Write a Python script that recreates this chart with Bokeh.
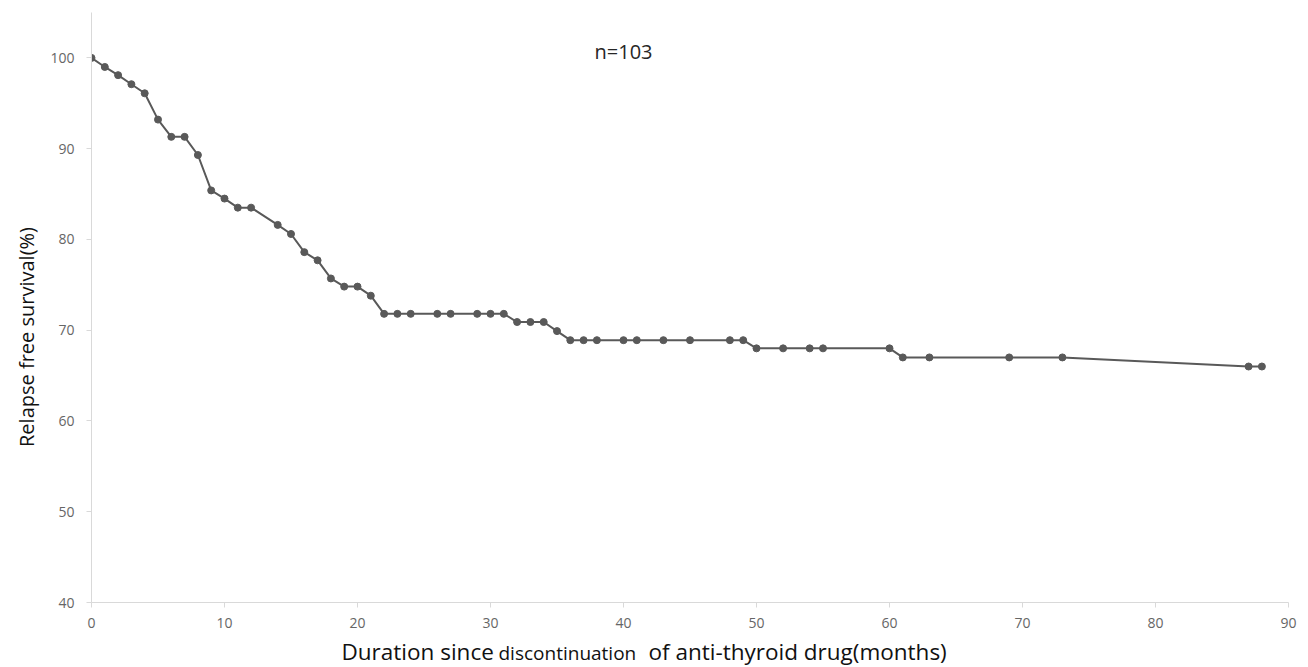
import math
from bokeh.plotting import figure
from bokeh.layouts import column, row
from bokeh.models import Label, Range1d, FixedTicker
from bokeh.embed import file_html
from bokeh.resources import INLINE

# ---- data (months since discontinuation, relapse-free survival %) ----
months = [0, 1, 2, 3, 4, 5, 6, 7, 8, 9, 10, 11, 12, 14, 15, 16, 17, 18, 19, 20,
          21, 22, 23, 24, 26, 27, 29, 30, 31, 32, 33, 34, 35, 36, 37, 38, 40, 41,
          43, 45, 48, 49, 50, 52, 54, 55, 60, 61, 63, 69, 73, 87, 88]
survival = [100.0, 99.0, 98.1, 97.1, 96.1, 93.2, 91.3, 91.3, 89.3, 85.4, 84.5,
            83.5, 83.5, 81.6, 80.6, 78.6, 77.7, 75.7, 74.8, 74.8, 73.8, 71.8,
            71.8, 71.8, 71.8, 71.8, 71.8, 71.8, 71.8, 70.9, 70.9, 70.9, 69.9,
            68.9, 68.9, 68.9, 68.9, 68.9, 68.9, 68.9, 68.9, 68.9, 68.0, 68.0,
            68.0, 68.0, 68.0, 67.0, 67.0, 67.0, 67.0, 66.0, 66.0]
x_ticks = [0, 10, 20, 30, 40, 50, 60, 70, 80, 90]
y_ticks = [40, 50, 60, 70, 80, 90, 100]
annotation = "n=103"
y_title = "Relapse free survival(%)"
x_title_parts = ["Duration since", "discontinuation", "of anti-thyroid drug(months)"]

FONT = "Open Sans"
GREY = "#595959"
TICK_TEXT = "#666666"
AXIS = "#d9d9d9"
TITLE = "#111111"

W, H = 1308, 667
LEFT_W = 40
TOP_H = 640
BOTTOM_H = H - TOP_H


def blank(width, height, xr, yr):
    f = figure(width=width, height=height, output_backend="svg", title=None,
               toolbar_location=None, x_range=xr, y_range=yr,
               x_axis_location=None, y_axis_location=None,
               min_border=0, outline_line_color=None)
    f.grid.visible = False
    f.border_fill_color = "white"
    f.background_fill_color = "white"
    return f


# ---- main chart ----
p = figure(width=W - LEFT_W, height=TOP_H, output_backend="svg", title=None,
           toolbar_location=None,
           x_range=Range1d(0, 90), y_range=Range1d(40, 105),
           min_border_left=51, min_border_right=20, min_border_top=12,
           min_border_bottom=38)
p.outline_line_color = None
p.xgrid.visible = False
p.ygrid.visible = False
p.background_fill_color = "white"
p.border_fill_color = "white"

p.line(months, survival, line_color=GREY, line_width=2)
p.scatter(months, survival, size=7, fill_color=GREY, line_color=GREY)

for ax in (p.xaxis[0], p.yaxis[0]):
    ax.axis_line_color = AXIS
    ax.axis_line_width = 1
    ax.major_tick_line_color = AXIS
    ax.major_tick_in = 0
    ax.major_tick_out = 5
    ax.minor_tick_line_color = None
    ax.major_label_text_font = FONT
    ax.major_label_text_font_size = "14px"
    ax.major_label_text_color = TICK_TEXT

p.xaxis.major_label_standoff = 10
p.yaxis.major_label_standoff = 12
p.xaxis.ticker = FixedTicker(ticks=x_ticks)
p.yaxis.ticker = FixedTicker(ticks=y_ticks)

p.add_layout(Label(x=40, y=100.75, text=annotation, text_align="center",
                   text_baseline="alphabetic", text_font=FONT,
                   text_font_size="20px", text_color="#262626"))

# ---- left strip: y-axis title ----
pl = blank(LEFT_W, TOP_H, Range1d(0, LEFT_W), Range1d(TOP_H, 0))
pl.add_layout(Label(x=26, y=352, text=y_title, angle=math.pi / 2,
                    text_align="center", text_baseline="middle",
                    text_font=FONT, text_font_size="20px",
                    text_color=TITLE))

# ---- bottom strip: x-axis title with mixed sizes ----
pb = blank(W, BOTTOM_H, Range1d(0, W), Range1d(BOTTOM_H, 0))
x_pos = [341, 498, 648]
y_pos = [11.2, 12.0, 11.2]
sizes = ["22.5px", "19px", "22.5px"]
for t, xp, yp, fs in zip(x_title_parts, x_pos, y_pos, sizes):
    pb.add_layout(Label(x=xp, y=yp, text=t, text_align="left",
                        text_baseline="alphabetic", text_font=FONT,
                        text_font_size=fs, text_color=TITLE))

layout = column(row(pl, p, spacing=0), pb, spacing=0)
open("out.html", "w").write(file_html(layout, INLINE))
